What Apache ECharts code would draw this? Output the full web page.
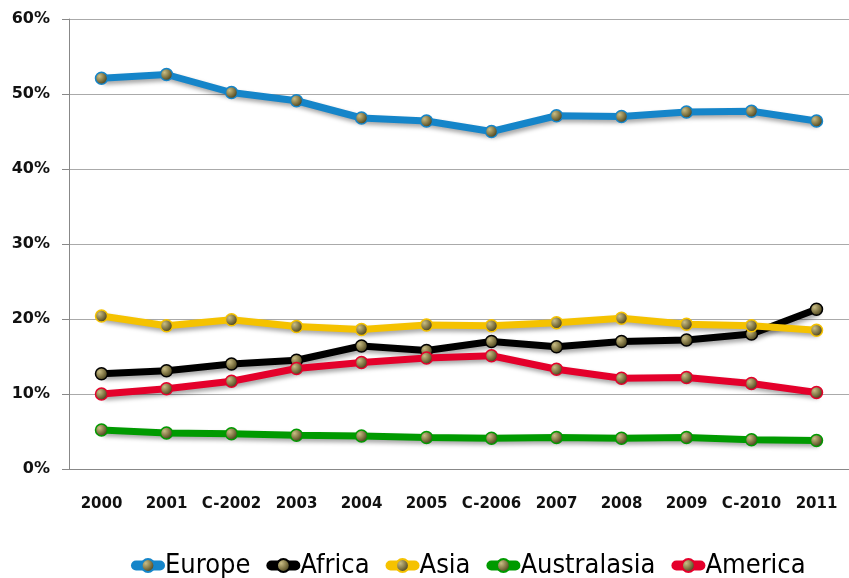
<!DOCTYPE html>
<html><head><meta charset="utf-8">
<script src="https://cdn.jsdelivr.net/npm/echarts@6/dist/echarts.min.js"></script>
<style>html,body{margin:0;padding:0;background:#fff}#c{width:849px;height:578px}</style>
</head><body><div id="c"></div>
<script>
var categories = ['2000','2001','C-2002','2003','2004','2005','C-2006','2007','2008','2009','C-2010','2011'];
var europe = [52.1,52.6,50.2,49.1,46.8,46.4,45.0,47.1,47.0,47.6,47.7,46.4];
var africa = [12.7,13.1,14.0,14.5,16.4,15.8,17.0,16.3,17.0,17.2,18.0,21.3];
var asia = [20.4,19.1,19.9,19.0,18.6,19.2,19.1,19.5,20.1,19.3,19.1,18.5];
var australasia = [5.2,4.8,4.7,4.5,4.4,4.2,4.1,4.2,4.1,4.2,3.9,3.8];
var america = [10.0,10.7,11.7,13.4,14.2,14.8,15.1,13.3,12.1,12.2,11.4,10.2];
var yTicks = [0,10,20,30,40,50,60];

var names = ['Europe','Africa','Asia','Australasia','America'];
var colors = ['#1585c9','#000000','#f5c200','#009a00','#e4002b'];
var datas = [europe, africa, asia, australasia, america];

var markerColor = new echarts.graphic.RadialGradient(0.35,0.35,0.7,[
  {offset:0,color:'#c9bd85'},{offset:0.5,color:'#857a48'},{offset:1,color:'#3a3414'}]);

var series = names.map(function(n,i){
  return {
    name:n, type:'line', data:datas[i], symbol:'circle', symbolSize:12,
    itemStyle:{color:markerColor, borderColor:colors[i], borderWidth:1.5},
    lineStyle:{color:colors[i], width:7, shadowColor:'rgba(0,0,0,0.35)', shadowBlur:4, shadowOffsetX:2, shadowOffsetY:3},
    z: 2
  };
});

var chart = echarts.init(document.getElementById('c'));
chart.setOption({
  animation:false,
  backgroundColor:'#fff',
  grid:{left:69, right:0, top:19, bottom:109},
  legend:{
    bottom:-6, left:126, itemWidth:24, itemHeight:16, itemGap:16,
    lineStyle:{width:10, cap:'round', shadowBlur:0, shadowOffsetX:0, shadowOffsetY:0},
    textStyle:{fontFamily:'DejaVu Sans Condensed, sans-serif', fontSize:27, color:'#000'},
    data:names
  },
  xAxis:{
    type:'category', data:categories, boundaryGap:true,
    axisLine:{lineStyle:{color:'#888', width:1}},
    axisTick:{show:false},
    axisLabel:{interval:0, margin:28, fontFamily:'DejaVu Sans', fontWeight:'bold', fontSize:15, color:'#111'}
  },
  yAxis:{
    type:'value', min:0, max:60, interval:10,
    axisLine:{show:true, lineStyle:{color:'#888'}},
    axisTick:{show:true, length:7, lineStyle:{color:'#888'}},
    splitLine:{lineStyle:{color:'#aaa'}},
    axisLabel:{margin:19, fontFamily:'DejaVu Sans', fontWeight:'bold', fontSize:16, color:'#111',
      formatter:function(v){return v+'%';}}
  },
  series:series
});
</script></body></html>
